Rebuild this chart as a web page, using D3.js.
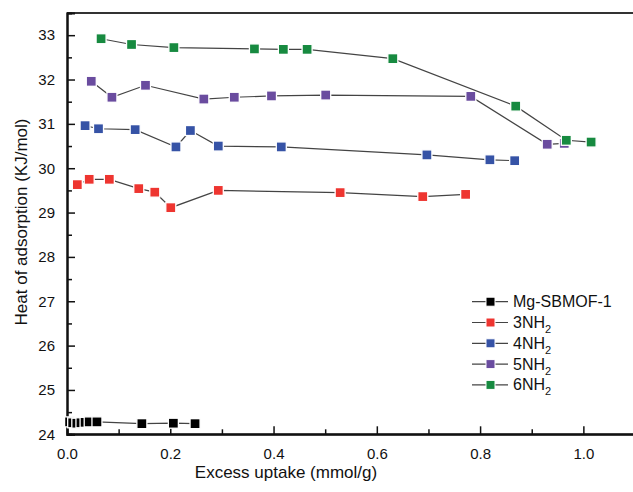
<!DOCTYPE html>
<html><head><meta charset="utf-8">
<script src="https://cdn.jsdelivr.net/npm/d3@7"></script>
<style>body{margin:0;background:#fff}svg{display:block}text{font-family:"Liberation Sans",Arial,sans-serif;fill:#111}</style>
</head><body><svg id="c" width="633" height="492"></svg>
<script>
const seriesNames = ["Mg-SBMOF-1","3NH2","4NH2","5NH2","6NH2"];
const seriesColors = ["#000000","#ee3530","#3653a6","#6a4c9f","#178a40"];
const mgX = [0.005,0.011,0.019,0.027,0.035,0.043,0.058,0.145,0.206,0.248];
const mgY = [24.28,24.26,24.25,24.26,24.27,24.28,24.28,24.24,24.25,24.24];
const n3X = [0.020,0.043,0.082,0.139,0.170,0.201,0.293,0.529,0.689,0.772];
const n3Y = [29.63,29.75,29.75,29.54,29.46,29.11,29.50,29.45,29.36,29.41];
const n4X = [0.035,0.061,0.132,0.211,0.239,0.293,0.415,0.697,0.819,0.867];
const n4Y = [30.96,30.89,30.87,30.48,30.85,30.50,30.48,30.30,30.19,30.17];
const n5X = [0.047,0.087,0.152,0.265,0.324,0.396,0.501,0.782,0.930,0.963];
const n5Y = [31.96,31.60,31.87,31.56,31.60,31.63,31.65,31.62,30.54,30.56];
const n6X = [0.066,0.125,0.207,0.363,0.419,0.465,0.631,0.869,0.967,1.015];
const n6Y = [32.92,32.79,32.72,32.69,32.68,32.68,32.47,31.40,30.63,30.59];
const xTicks = [0.0,0.2,0.4,0.6,0.8,1.0];
const yTicks = [24,25,26,27,28,29,30,31,32,33];

const allX = [mgX,n3X,n4X,n5X,n6X], allY=[mgY,n3Y,n4Y,n5Y,n6Y];
const svg = d3.select("#c");
const L=67, R=635, T=13, B=434.3;
const x = d3.scaleLinear().domain([0,1.1]).range([L,R]);
const y = d3.scaleLinear().domain([24,33.5]).range([B,T]);

// top border
svg.append("line").attr("x1",L).attr("x2",633).attr("y1",T).attr("y2",T).attr("stroke","#333").attr("stroke-width",2);

// axes
const xa = svg.append("g").attr("transform",`translate(0,${B})`)
  .call(d3.axisBottom(x).tickValues(xTicks).tickFormat(d3.format(".1f")).tickSize(-8).tickPadding(14));
const xm = svg.append("g").attr("transform",`translate(0,${B})`)
  .call(d3.axisBottom(x).tickValues([0.1,0.3,0.5,0.7,0.9]).tickFormat("").tickSize(-5));
const ya = svg.append("g").attr("transform",`translate(${L},0)`)
  .call(d3.axisLeft(y).tickValues(yTicks).tickSize(-8).tickPadding(12));
const ym = svg.append("g").attr("transform",`translate(${L},0)`)
  .call(d3.axisLeft(y).tickValues(d3.range(24.5,33.5,1)).tickFormat("").tickSize(-5));
[xa,xm,ya,ym].forEach(g=>{g.selectAll("path").attr("stroke","#111").attr("stroke-width",2);
  g.selectAll("line").attr("stroke","#111").attr("stroke-width",1.5);
  g.selectAll("text").style("font-size","15px").attr("fill","#111");});
xa.select(".domain").attr("d",`M${L},0H633`);

// series
const line = d3.line().x(d=>x(d[0])).y(d=>y(d[1]));
allX.forEach((xs,i)=>{
  const pts = xs.map((v,j)=>[v,allY[i][j]]);
  svg.append("path").attr("d",line(pts)).attr("fill","none").attr("stroke","#444").attr("stroke-width",1.2);
  svg.append("g").selectAll("rect").data(pts).join("rect")
    .attr("x",d=>x(d[0])-5).attr("y",d=>y(d[1])-5).attr("width",10).attr("height",10)
    .attr("fill",seriesColors[i]).attr("stroke","#fff").attr("stroke-width",1.3);
});

// legend
const lg = svg.append("g");
seriesNames.forEach((name,i)=>{
  const cy = 301.7 + i*20.8;
  lg.append("line").attr("x1",472).attr("x2",508).attr("y1",cy).attr("y2",cy).attr("stroke","#444").attr("stroke-width",1.2);
  lg.append("rect").attr("x",486).attr("y",cy-4.5).attr("width",9).attr("height",9).attr("fill",seriesColors[i]).attr("stroke","#fff").attr("stroke-width",1);
  const t = lg.append("text").attr("x",513).attr("y",cy+5.5).style("font-size","16px");
  const m = name.match(/^(\d)NH2$/);
  if(m){ t.append("tspan").text(m[1]+"NH"); t.append("tspan").attr("dy",5).style("font-size","11px").text("2"); }
  else t.text(name);
});

// titles
svg.append("text").attr("x",286).attr("y",478).attr("text-anchor","middle").style("font-size","17px").text("Excess uptake (mmol/g)");
svg.append("text").attr("transform","translate(27,222) rotate(-90)").attr("text-anchor","middle").style("font-size","17px").text("Heat of adsorption (KJ/mol)");
</script></body></html>
